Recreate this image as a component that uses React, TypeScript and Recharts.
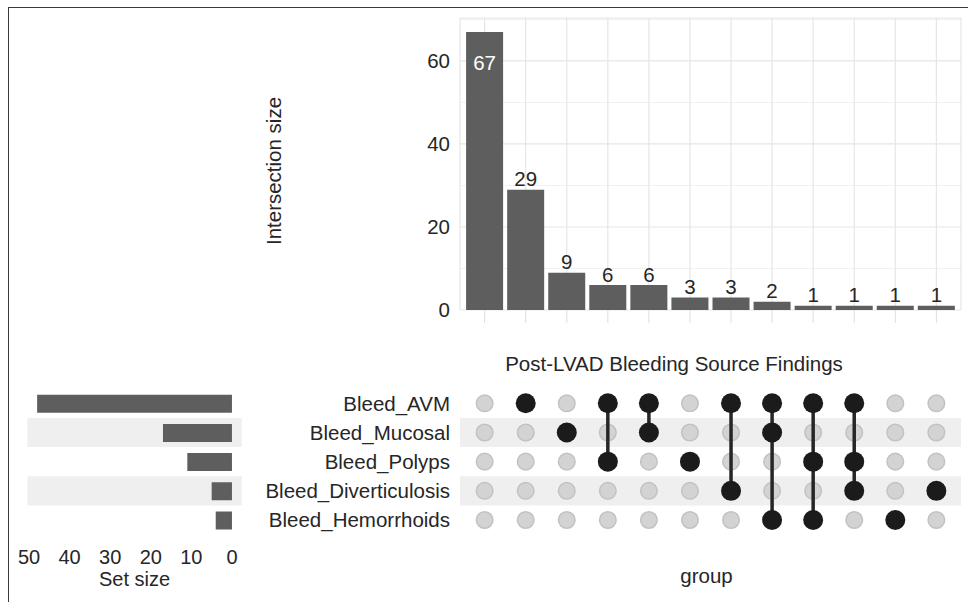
import React from 'react';
import {
  BarChart,
  Bar,
  XAxis,
  YAxis,
  CartesianGrid,
  LabelList,
  Label,
  ScatterChart,
  Scatter,
  ReferenceArea,
} from 'recharts';

const FONT = '"Liberation Sans", Arial, Helvetica, sans-serif';
const TEXT = '#262626';
const BAR = '#5e5e5e';
const FS = 20.5;

// sets, top to bottom in the matrix
const sets = ['Bleed_AVM', 'Bleed_Mucosal', 'Bleed_Polyps', 'Bleed_Diverticulosis', 'Bleed_Hemorrhoids'];
const setSizes = [48, 17, 11, 5, 4];

// intersections, left to right
const intersectionMembers: string[][] = [
  [],
  ['Bleed_AVM'],
  ['Bleed_Mucosal'],
  ['Bleed_AVM', 'Bleed_Polyps'],
  ['Bleed_AVM', 'Bleed_Mucosal'],
  ['Bleed_Polyps'],
  ['Bleed_AVM', 'Bleed_Diverticulosis'],
  ['Bleed_AVM', 'Bleed_Mucosal', 'Bleed_Hemorrhoids'],
  ['Bleed_AVM', 'Bleed_Polyps', 'Bleed_Hemorrhoids'],
  ['Bleed_AVM', 'Bleed_Polyps', 'Bleed_Diverticulosis'],
  ['Bleed_Hemorrhoids'],
  ['Bleed_Diverticulosis'],
];
const intersectionSizes = [67, 29, 9, 6, 6, 3, 3, 2, 1, 1, 1, 1];

const intersectionTicks = [0, 20, 40, 60];
const intersectionMinorTicks = [10, 30, 50, 70];
const setSizeTicks = [0, 10, 20, 30, 40, 50];

const barData = intersectionMembers.map((m, i) => ({
  key: m.length ? m.join('&') : 'none',
  size: intersectionSizes[i],
}));
const setData = sets.map((name, i) => ({ name, size: setSizes[i] }));

const rowsOf = (m: string[]) => m.map((s) => sets.indexOf(s));
const grayDots = intersectionMembers.flatMap((_, c) => sets.map((__, r) => ({ x: c, y: r })));
const blackDots = intersectionMembers.flatMap((m, c) => rowsOf(m).map((r) => ({ x: c, y: r })));
const connectors = intersectionMembers
  .map((m, c) => ({ c, rows: rowsOf(m) }))
  .filter((d) => d.rows.length > 1)
  .map((d) => [
    { x: d.c, y: Math.min(...d.rows) },
    { x: d.c, y: Math.max(...d.rows) },
  ]);

const maxSize = Math.max(...intersectionSizes);

const renderBarLabel = (props: any) => {
  const { x, y, width, value } = props;
  const inside = value === maxSize;
  return (
    <text
      x={x + width / 2}
      y={inside ? y + 38 : y - 3.5}
      textAnchor="middle"
      fill={inside ? '#ffffff' : TEXT}
      fontSize={FS}
      fontFamily={FONT}
    >
      {value}
    </text>
  );
};

const tickStyle = { fontSize: FS, fill: TEXT, fontFamily: FONT };

const grayDot = (p: any) => (
  <circle cx={p.cx} cy={p.cy} r={8.3} fill="#d3d3d3" stroke="#c2c2c2" strokeWidth={1.5} />
);
const blackDot = (p: any) => <circle cx={p.cx} cy={p.cy} r={10} fill="#1b1b1b" />;
const noDot = () => <g />;

export default function App() {
  return (
    <div style={{ position: 'relative', width: 968, height: 602, background: '#fff', fontFamily: FONT }}>
      <style>{'body{margin:0;overflow:hidden}'}</style>
      {/* frame of the original figure */}
      <div
        style={{
          position: 'absolute',
          left: 8,
          top: 7,
          width: 960,
          height: 595,
          borderTop: '1px solid #3a3a3a',
          borderLeft: '1px solid #3a3a3a',
        }}
      />

      {/* intersection size bars */}
      <div style={{ position: 'absolute', left: 250, top: 10 }}>
        <BarChart width={718} height={330} data={barData} margin={{ top: 8, right: 7, bottom: 0, left: 0 }}>
          <CartesianGrid horizontalValues={intersectionMinorTicks} vertical={false} stroke="#f1f1f1" />
          <CartesianGrid stroke="#e6e6e6" strokeWidth={1.2} />
          <XAxis
            dataKey="key"
            type="category"
            interval={0}
            padding={{ left: 4.1, right: 4.1 }}
            height={30}
            axisLine={false}
            tickLine={{ stroke: '#dedede' }}
            tickSize={13}
            tickFormatter={() => ''}
          />
          <YAxis
            type="number"
            domain={[0, 70.35]}
            allowDataOverflow
            ticks={intersectionTicks}
            width={210}
            axisLine={false}
            tickLine={false}
            tickSize={0}
            tickMargin={10}
            tick={tickStyle}
          >
            <Label
              content={(p: any) => {
                const vb = p.viewBox;
                return (
                  <text
                    transform={`translate(${vb.x + 31}, ${161}) rotate(-90)`}
                    textAnchor="middle"
                    fontSize={FS}
                    fill={TEXT}
                    fontFamily={FONT}
                  >
                    Intersection size
                  </text>
                );
              }}
            />
          </YAxis>
          <Bar dataKey="size" fill={BAR} barSize={37} isAnimationActive={false}>
            <LabelList dataKey="size" content={renderBarLabel} />
          </Bar>
        </BarChart>
      </div>

      <svg width={968} height={30} style={{ position: 'absolute', left: 0, top: 345 }}>
        <text x={674} y={26} textAnchor="middle" fontSize={FS} fill={TEXT} fontFamily={FONT}>
          Post-LVAD Bleeding Source Findings
        </text>
      </svg>

      {/* set size bars */}
      <div style={{ position: 'absolute', left: 9, top: 380 }}>
        <BarChart
          layout="vertical"
          width={241}
          height={222}
          data={setData}
          margin={{ top: 5.8, right: 8.3, bottom: 0, left: 18.4 }}
        >
          {sets
            .filter((_, i) => i % 2 === 1)
            .map((s) => (
              <ReferenceArea key={s} y1={s} y2={s} fill="#efefef" fillOpacity={1} stroke="none" />
            ))}
          <XAxis
            type="number"
            domain={[-2.4, 50.4]}
            allowDataOverflow
            reversed
            ticks={setSizeTicks}
            height={64.5}
            axisLine={false}
            tickLine={false}
            tickSize={0}
            tickMargin={12.5}
            tick={{ ...tickStyle, fontSize: 20 }}
          >
            <Label
              content={(p: any) => {
                const vb = p.viewBox;
                return (
                  <text
                    x={vb.x + vb.width / 2}
                    y={vb.y + 48.5}
                    textAnchor="middle"
                    fontSize={20}
                    fill={TEXT}
                    fontFamily={FONT}
                  >
                    Set size
                  </text>
                );
              }}
            />
          </XAxis>
          <YAxis type="category" dataKey="name" hide padding={{ top: 2.9, bottom: 2.9 }} />
          <Bar dataKey="size" fill={BAR} barSize={18} isAnimationActive={false} />
        </BarChart>
      </div>

      {/* membership matrix */}
      <div style={{ position: 'absolute', left: 250, top: 380 }}>
        <ScatterChart width={718} height={222} margin={{ top: 5.8, right: 7, bottom: 0, left: 0 }}>
          {sets.map((s, i) =>
            i % 2 === 1 ? (
              <ReferenceArea key={s} y1={i - 0.5} y2={i + 0.5} fill="#efefef" fillOpacity={1} stroke="none" />
            ) : null,
          )}
          <XAxis
            type="number"
            dataKey="x"
            domain={[-0.6, 11.6]}
            allowDataOverflow
            height={64.5}
            axisLine={false}
            tickLine={false}
            tick={false}
          >
            <Label
              content={(p: any) => {
                const vb = p.viewBox;
                return (
                  <text
                    x={vb.x + vb.width / 2 - 4}
                    y={vb.y + 45.5}
                    textAnchor="middle"
                    fontSize={FS}
                    fill={TEXT}
                    fontFamily={FONT}
                  >
                    group
                  </text>
                );
              }}
            />
          </XAxis>
          <YAxis
            type="number"
            dataKey="y"
            domain={[-0.6, 4.6]}
            allowDataOverflow
            reversed
            ticks={sets.map((_, i) => i)}
            tickFormatter={(i: number) => sets[i]}
            width={210}
            axisLine={false}
            tickLine={false}
            tickSize={0}
            tickMargin={10}
            tick={tickStyle}
          />
          <Scatter data={grayDots} shape={grayDot} isAnimationActive={false} />
          {connectors.map((seg, i) => (
            <Scatter
              key={i}
              data={seg}
              shape={noDot}
              line={{ stroke: '#262626', strokeWidth: 3.5 }}
              isAnimationActive={false}
            />
          ))}
          <Scatter data={blackDots} shape={blackDot} isAnimationActive={false} />
        </ScatterChart>
      </div>
    </div>
  );
}
